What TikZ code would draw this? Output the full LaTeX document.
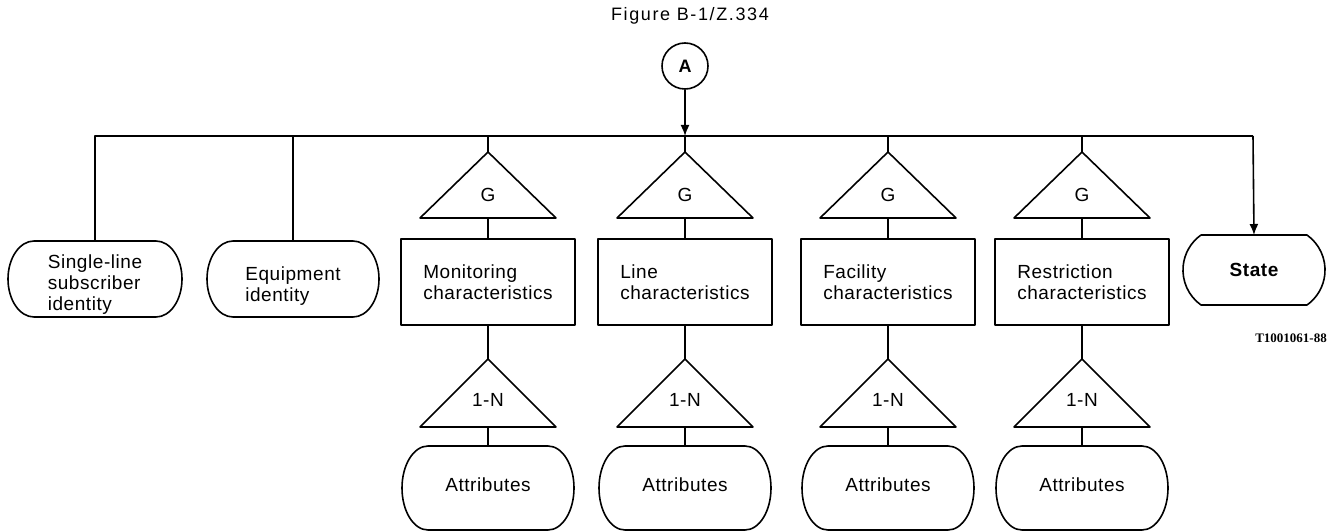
\documentclass[tikz,border=0pt]{standalone}
\usepackage{fontspec}
\setmainfont{Liberation Sans}[LetterSpace=3]
\newfontfamily\titlefont{Liberation Sans}[LetterSpace=9]
\newfontfamily\codefont{Liberation Serif}
\usetikzlibrary{arrows.meta}
\tikzset{
  x=1pt,y=1pt,
  every path/.style={line width=1.6pt, line join=round},
  txt/.style={font=\fontsize{19}{21}\selectfont, align=left, inner sep=0pt},
  boxn/.style={draw, rectangle, minimum width=174pt, minimum height=86pt, inner sep=0pt, align=left, font=\fontsize{19}{21}\selectfont},
  pilln/.style={rectangle, inner sep=0pt, outer sep=0pt, align=left, font=\fontsize{19}{21}\selectfont},
  arr/.style={-{Latex[length=11pt,width=9pt]}},
}
\newcommand\pillpath[3]{%
  \draw (#1.west) arc[start angle=180,end angle=90,x radius=#2,y radius=#3]
    -- ([xshift=-#2]#1.north east)
    arc[start angle=90,end angle=-90,x radius=#2,y radius=#3]
    -- ([xshift=#2]#1.south west)
    arc[start angle=270,end angle=180,x radius=#2,y radius=#3];}
\newcommand\colm[3]{%
  \draw (#2,-152) coordinate (#1gt) -- (#2+68,-218) -- (#2-68,-218) -- cycle;
  \coordinate (#1gb) at (#2,-218);
  \node[txt] (#1g) at (#2,-195) {G};
  \node[boxn] (#1) at (#2,-282) {#3};
  \draw (#1gb) -- (#1.north);
  \draw (#2,-359) coordinate (#1nt) -- (#2+68,-427) -- (#2-68,-427) -- cycle;
  \coordinate (#1nb) at (#2,-427);
  \node[txt] (#1n) at (#2,-400) {1-N};
  \draw (#1.south) -- (#1nt);
  \node[pilln, minimum width=172pt, minimum height=84pt] (#1at) at (#2,-488) {\raisebox{3pt}[\height][\depth]{Attributes}};
  \pillpath{#1at}{26pt}{42pt}
  \draw (#1nb) -- (#1at.north);
}
\begin{document}
\begin{tikzpicture}
\useasboundingbox (0,0) rectangle (1339,-532);
% title
\node[font=\titlefont\fontsize{18}{20}\selectfont, inner sep=0pt] (title) at (690,-16) {Figure B-1/Z.334};
% circle A
\node[draw, circle, minimum size=46pt, inner sep=0pt, font=\bfseries\fontsize{18}{20}\selectfont] (A) at (685,-66) {A};
% bus
\coordinate (busL) at (95,-136);
\coordinate (busM) at (685,-136);
\coordinate (busR) at (1253,-136);
\draw[arr] (A.south) -- (busM);
% left pills
\node[pilln, minimum width=174pt, minimum height=76pt] (sl) at (95,-279) {\raisebox{-6pt}[\height][\depth]{\begin{tabular}{@{}l@{}}Single-line\\subscriber\\identity\end{tabular}}};
\pillpath{sl}{26pt}{38pt}
\node[pilln, minimum width=172pt, minimum height=76pt] (eq) at (293,-279) {\raisebox{-8pt}[\height][\depth]{\begin{tabular}{@{}l@{}}Equipment\\identity\end{tabular}}};
\pillpath{eq}{26pt}{38pt}
% columns
\colm{mon}{488}{Monitoring\\characteristics}
\colm{lin}{685}{Line\\characteristics}
\colm{fac}{888}{Facility\\characteristics}
\colm{res}{1082}{Restriction\\characteristics}
% state
\node[pilln, minimum width=142pt, minimum height=70pt, font=\bfseries\fontsize{19}{21}\selectfont] (st) at (1254,-270) {State};
\draw ([xshift=18pt]st.north west) -- ([xshift=-18pt]st.north east)
  arc[start angle=54.5,end angle=-54.5,radius=43pt]
  -- ([xshift=18pt]st.south west)
  arc[start angle=234.5,end angle=125.5,radius=43pt] -- cycle;
% bus lines
\draw (sl.north) -- (sl.north |- busL) -- (busR);
\draw[arr] (busR) -- (st.north);
\draw (eq.north) -- (eq.north |- busL);
\draw (mongt) -- (mongt |- busL);
\draw (busM) -- (lingt);
\draw (facgt) -- (facgt |- busL);
\draw (resgt) -- (resgt |- busL);
% code
\node[font=\codefont\bfseries\fontsize{13}{15}\selectfont, inner sep=0pt] (code) at (1291,-338) {T1001061-88};
\end{tikzpicture}
\end{document}
